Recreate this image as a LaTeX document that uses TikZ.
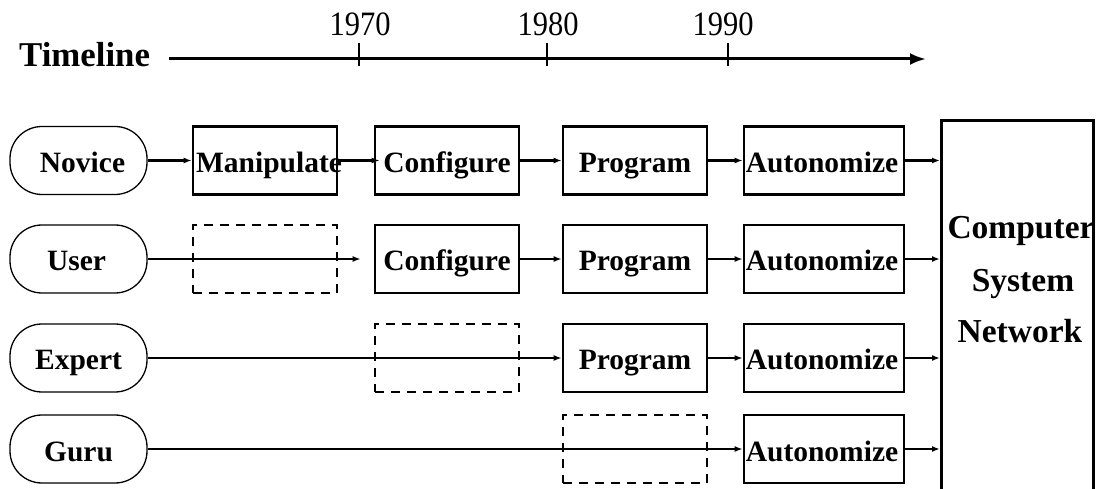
\documentclass[tikz,border=0pt]{standalone}
\usepackage{fontspec}
\newfontfamily\tnr{Liberation Serif}
\usetikzlibrary{arrows.meta}
\begin{document}
\begin{tikzpicture}[x=1pt,y=-1pt,
  lbl/.style={font=\tnr\bfseries\fontsize{29.5}{34}\selectfont, text height=30pt, text depth=6pt},
  stage/.style={lbl, draw, line width=2.6pt, minimum height=68pt, minimum width=144pt, inner sep=0pt},
  widestage/.style={stage, minimum width=160pt},
  ghost/.style={draw, line width=2.2pt, dash pattern=on 9pt off 7pt, minimum height=68pt, minimum width=144pt, inner sep=0pt},
  actor/.style={lbl, draw, line width=1.3pt, rounded corners=32pt, minimum height=68pt, minimum width=137pt, inner sep=0pt},
  flow/.style={-{Latex[length=8pt,width=6pt]}, line width=1.8pt},
  mainflow/.style={flow, line width=2.8pt},
  year/.style={anchor=base, inner sep=0pt, font=\tnr\fontsize{30.5}{36}\selectfont},
  tick/.style={line width=2pt},
  sysfont/.style={anchor=base, inner sep=0pt, font=\tnr\bfseries\fontsize{33.5}{40}\selectfont}
]
\useasboundingbox (0,0) rectangle (1096,489);

% ---- timeline axis ----
\node[anchor=base west, inner sep=0pt, font=\tnr\bfseries\fontsize{34.8}{40}\selectfont] (tl) at (19,67) {Timeline};
\coordinate (tlstart) at (169,59);
\coordinate (tlend) at (926,59);
\draw[line width=3pt, -{Latex[length=16pt,width=12pt]}] (tlstart) -- (tlend);
\foreach \x in {359, 547, 728}{
  \draw[tick] (\x,43) -- (\x,66);
}
\node[year] (y70) at (360,36) {\scalebox{1}[1.12]{1970}};
\node[year] (y80) at (548,36) {\scalebox{1}[1.12]{1980}};
\node[year] (y90) at (723,36) {\scalebox{1}[1.12]{1990}};

% ---- target system ----
\node[draw, line width=2.6pt, minimum width=152pt, minimum height=400pt, inner sep=0pt, anchor=north west] (net) at (940,119) {};
\node[sysfont] (netA) at (1021,239) {Computer};
\node[sysfont] (netB) at (1023,292) {System};
\node[sysfont] (netC) at (1020,343) {Network};

% ---- row 1: novice ----
\node[actor] (nov) at (78.5,160.5) {\makebox[0pt]{\hspace*{8pt}Novice}};
\node[stage] (m1) at (265,160.5) {\makebox[0pt]{\hspace*{8pt}Manipulate}};
\node[stage] (c1) at (447,160.5) {Configure};
\node[stage] (p1) at (635,160.5) {Program};
\node[widestage] (a1) at (824,160.5) {\makebox[0pt]{Autonomize\hspace*{4pt}}};
\draw[mainflow] (nov) -- (m1);
\draw[mainflow] (m1) -- ([xshift=6pt]c1.west);
\draw[mainflow] (c1) -- (p1);
\draw[mainflow] (p1) -- (a1);
\draw[mainflow] (a1) -- (a1 -| net.west);

% ---- row 2: user ----
\node[actor] (usr) at (78.5,259) {\makebox[0pt]{User\hspace*{4pt}}};
\node[ghost] (g2) at (265,259) {};
\node[stage] (c2) at (447,259) {Configure};
\node[stage] (p2) at (635,259) {Program};
\node[widestage] (a2) at (824,259) {\makebox[0pt]{Autonomize\hspace*{4pt}}};
\draw[flow] (usr) -- ([xshift=-13pt]c2.west);
\draw[flow] (c2) -- (p2);
\draw[flow] (p2) -- (a2);
\draw[flow] (a2) -- (a2 -| net.west);

% ---- row 3: expert ----
\node[actor] (exp) at (78.5,358) {Expert};
\node[ghost] (g3) at (447,358) {};
\node[stage] (p3) at (635,358) {Program};
\node[widestage] (a3) at (824,358) {\makebox[0pt]{Autonomize\hspace*{4pt}}};
\draw[flow] (exp) -- (p3);
\draw[flow] (p3) -- (a3);
\draw[flow] (a3) -- (a3 -| net.west);

% ---- row 4: guru ----
\node[actor] (gur) at (78.5,449) {Guru};
\node[ghost] (g4) at (635,449) {};
\node[widestage] (a4) at (824,449) {\makebox[0pt]{Autonomize\hspace*{4pt}}};
\draw[flow] (gur) -- (a4);
\draw[flow] (a4) -- (a4 -| net.west);
\end{tikzpicture}
\end{document}
